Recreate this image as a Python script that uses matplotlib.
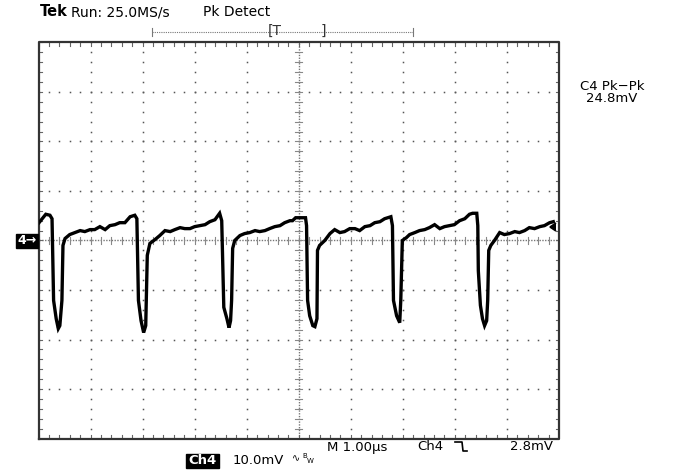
import numpy as np
import matplotlib
matplotlib.use("Agg")
import matplotlib.pyplot as plt
from matplotlib.lines import Line2D
from matplotlib.patches import Rectangle

# ---- data (time in microseconds, voltage in mV) ----
time_us = [0.01, 0.07, 0.14, 0.22, 0.26, 0.29, 0.34, 0.38, 0.41, 0.45, 0.47, 0.51, 0.60, 0.70, 0.80,
           0.89, 0.99, 1.08, 1.18, 1.28, 1.37, 1.47, 1.56, 1.66, 1.76, 1.85, 1.89, 1.92, 1.97, 2.02,
           2.06, 2.09, 2.14, 2.24, 2.33, 2.43, 2.53, 2.62, 2.72, 2.81, 2.91, 3.00, 3.10, 3.20, 3.29,
           3.39, 3.48, 3.52, 3.56, 3.62, 3.66, 3.69, 3.71, 3.73, 3.77, 3.87, 3.96, 4.06, 4.16, 4.25,
           4.35, 4.44, 4.54, 4.64, 4.73, 4.83, 4.88, 4.94, 5.02, 5.13, 5.15, 5.17, 5.21, 5.27, 5.31,
           5.35, 5.36, 5.40, 5.50, 5.60, 5.69, 5.79, 5.88, 5.98, 6.08, 6.17, 6.27, 6.37, 6.46, 6.56,
           6.65, 6.77, 6.80, 6.82, 6.88, 6.94, 6.96, 6.99, 7.07, 7.13, 7.23, 7.32, 7.42, 7.51, 7.61,
           7.71, 7.80, 7.90, 7.99, 8.09, 8.19, 8.28, 8.34, 8.42, 8.44, 8.45, 8.49, 8.53, 8.57, 8.61,
           8.63, 8.65, 8.69, 8.76, 8.86, 8.95, 9.05, 9.15, 9.24, 9.34, 9.43, 9.53, 9.63, 9.72, 9.82,
           9.89]
volt_mV = [3.6, 4.4, 5.3, 5.1, 4.4, -12.1, -15.8, -17.8, -17.2, -12.1, -1.0, 0.4, 1.2, 1.6, 2.0,
           1.8, 2.2, 2.2, 2.8, 2.2, 3.0, 3.2, 3.6, 3.6, 4.8, 5.1, 4.4, -12.1, -16.2, -18.6,
           -17.2, -3.0, -0.6, 0.2, 1.0, 2.0, 1.8, 2.2, 2.6, 2.4, 2.4, 2.8, 3.0, 3.2, 3.8,
           4.2, 5.5, 4.0, -13.5, -15.8, -17.6, -16.2, -12.1, -1.6, 0.0, 1.0, 1.4, 1.6, 2.0, 1.8,
           2.0, 2.4, 2.8, 3.0, 3.6, 4.0, 4.0, 4.6, 4.6, 4.6, 3.0, -12.1, -15.2, -17.2, -17.4,
           -15.8, -2.0, -1.0, 0.0, 1.4, 2.2, 1.6, 1.8, 2.4, 2.4, 2.0, 2.8, 3.0, 3.6, 3.8,
           4.4, 4.8, 3.0, -12.1, -15.2, -16.6, -12.1, 0.0, 0.6, 1.2, 1.6, 2.0, 2.2, 2.6, 3.2,
           2.4, 2.8, 3.0, 3.2, 4.0, 4.4, 5.3, 5.5, 5.5, 3.0, -6.1, -13.1, -15.8, -17.2, -16.2,
           -12.1, -2.0, -1.0, 0.0, 1.6, 1.2, 1.4, 1.8, 1.6, 2.0, 2.6, 2.4, 2.8, 3.0, 3.6,
           3.8]
trigger_level_mV = 2.8

header_parts = ["Run: 25.0MS/s", "Pk Detect"]
meas_label = "C4 Pk\u2212Pk"
meas_value = "24.8mV"
bottom_time = "M 1.00\u00b5s"
bottom_ch = "Ch4"
bottom_trig = "2.8mV"
scale_text = "10.0mV"

# ---- figure ----
W, H = 678, 475
fig = plt.figure(figsize=(W / 100, H / 100), dpi=100)
fig.patch.set_facecolor("white")

def fx(px):
    return px / W

def fy(py):
    return 1 - py / H

L, R, T, B = 38.5, 559, 42.5, 438.5
ax = fig.add_axes([fx(L), fy(B), (R - L) / W, (B - T) / H])
ax.set_xlim(0, 10)
ax.set_ylim(-40, 40)
ax.set_xticks([])
ax.set_yticks([])
for s in ax.spines.values():
    s.set_visible(False)

gcol = "#555555"
# internal grid dots
minor_t = np.arange(0, 10.001, 0.2)
minor_v = np.arange(-40, 40.001, 2)
for tv in range(1, 10):
    if tv == 5:
        continue
    ax.plot(np.full_like(minor_v, tv), minor_v, ls="none", marker="s", ms=1.1, color=gcol, mew=0)
for vv in range(-30, 31, 10):
    if vv == 0:
        continue
    ax.plot(minor_t, np.full_like(minor_t, vv), ls="none", marker="s", ms=1.1, color=gcol, mew=0)

# center lines: dense dots + ticks
ax.plot([0, 10], [0, 0], color="#777777", lw=1.0, ls=(0, (1, 1)))
ax.plot([5, 5], [-40, 40], color="#777777", lw=1.0, ls=(0, (1, 1)))
dt_px = 10 / (R - L)
dv_px = 80 / (B - T)
for tv in minor_t:
    ax.plot([tv, tv], [-3.5 * dv_px, 3.5 * dv_px], color="#888888", lw=0.8)
    ax.plot([tv, tv], [40, 40 - 4 * dv_px], color="#666666", lw=0.8)
    ax.plot([tv, tv], [-40, -40 + 4 * dv_px], color="#666666", lw=0.8)
for vv in minor_v:
    ax.plot([5 - 3.5 * dt_px, 5 + 3.5 * dt_px], [vv, vv], color="#888888", lw=0.8)
    ax.plot([0, 3 * dt_px], [vv, vv], color="#666666", lw=0.8)
    ax.plot([10, 10 - 3 * dt_px], [vv, vv], color="#666666", lw=0.8)

# frame
ax.plot([0, 10, 10, 0, 0], [-40, -40, 40, 40, -40], color="#333333", lw=1.6, clip_on=False)

# trace
ax.plot(time_us, volt_mV, color="black", lw=2.4, solid_joinstyle="miter")

# trigger level marker at right edge
ax.plot([9.82], [trigger_level_mV], marker=4, ms=6, color="black", mew=1.2)

# ---- annotations ----
fig.text(fx(40), fy(12), "Tek", fontsize=10.5, fontweight="bold", va="center", ha="left")
fig.text(fx(71), fy(12), header_parts[0], fontsize=10, va="center", ha="left")
fig.text(fx(203), fy(12), header_parts[1], fontsize=10, va="center", ha="left")

# record position bar
fig.add_artist(Line2D([fx(152), fx(413)], [fy(32), fy(32)], color="#777777", lw=0.8, ls=(0, (1, 1))))
for xe in (152, 413):
    fig.add_artist(Line2D([fx(xe), fx(xe)], [fy(28), fy(36)], color="#777777", lw=0.8))
fig.text(fx(268), fy(31), "[T", fontsize=10, va="center", ha="left", color="#333333")
fig.text(fx(321), fy(31), "]", fontsize=10, va="center", ha="left", color="#333333")

# measurement readout
fig.text(fx(612), fy(86), meas_label, fontsize=9.5, va="center", ha="center")
fig.text(fx(612), fy(99), meas_value, fontsize=9.5, va="center", ha="center")

# bottom readouts
fig.text(fx(327), fy(447), bottom_time, fontsize=9.5, va="center", ha="left")
fig.text(fx(417), fy(447), bottom_ch, fontsize=9.5, va="center", ha="left")
# falling edge symbol
fig.add_artist(Line2D([fx(455), fx(462), fx(463), fx(467)],
                      [fy(442), fy(442), fy(451), fy(451)], color="black", lw=1.2))
fig.text(fx(553), fy(447), bottom_trig, fontsize=9.5, va="center", ha="right")

fig.add_artist(Rectangle((fx(186), fy(468)), (219 - 186) / W, 14 / H, color="black", transform=fig.transFigure))
fig.text(fx(202.5), fy(461), bottom_ch, fontsize=9.5, fontweight="bold", color="white", va="center", ha="center")
fig.text(fx(233), fy(461), scale_text, fontsize=9.5, va="center", ha="left")
fig.text(fx(292), fy(458), "\u223f", fontsize=7, va="center", ha="left")
fig.text(fx(302), fy(456), "B", fontsize=5, va="center", ha="left")
fig.text(fx(307), fy(461), "W", fontsize=5, va="center", ha="left")

# channel ground marker
fig.add_artist(Rectangle((fx(16), fy(248)), 22 / W, 14 / H, color="black", transform=fig.transFigure))
fig.text(fx(27), fy(241), "4\u2192", fontsize=9, fontweight="bold", color="white", va="center", ha="center")

fig.savefig("out.png", dpi=100)
